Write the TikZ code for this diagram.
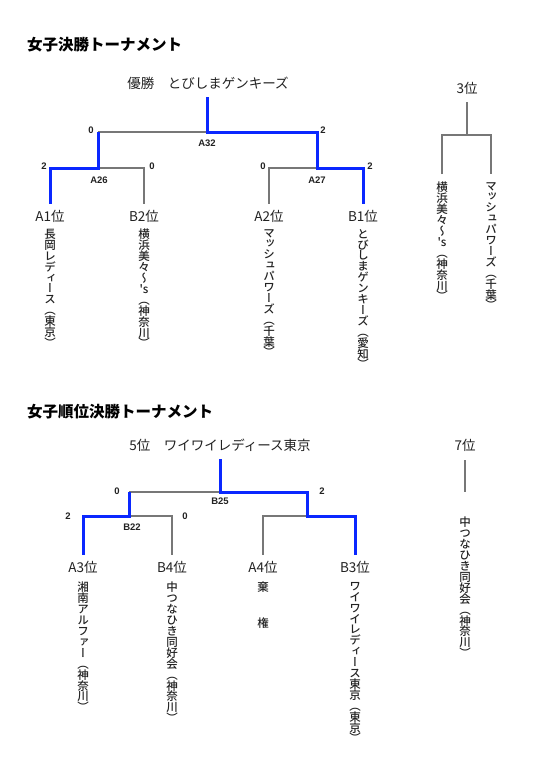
\documentclass[tikz,border=0pt]{standalone}
\usepackage{fontspec}
\setmainfont{Noto Sans CJK JP}
\newfontfamily\vjp[RawFeature=+vert]{Noto Sans CJK JP Medium}
\newfontfamily\jpm{Noto Sans CJK JP Medium}
\newfontfamily\numf{Liberation Sans}
\definecolor{wblue}{HTML}{0A28FF}
\definecolor{lgray}{HTML}{777777}
\definecolor{txt}{HTML}{222222}
\def\vstEnd{vstEnd-unique-marker}
\def\aps{'s}
\newcommand\vst[1]{\vbox{\baselineskip=10.9pt\lineskiplimit=-20pt\vjp\fontsize{11.5}{10.9}\selectfont\vstA#1\vstEnd}}
\def\vstA#1{\ifx\vstEnd#1\else\hbox to 12pt{\hss#1\hss}\expandafter\vstA\fi}
\tikzset{
  x=1pt,y=-1pt,
  win/.style={draw=wblue,line width=3pt},
  lose/.style={draw=lgray,line width=1.1pt},
  title/.style={anchor=west,inner sep=0,font=\bfseries\fontsize{15.5}{16}\selectfont,text=black},
  lbl/.style={inner sep=0,font=\fontsize{13.5}{13.5}\selectfont,text=txt},
  team/.style={lbl,outer ysep=6pt},
  sc/.style={inner sep=0,font=\numf\bfseries\fontsize{9.5}{9.5}\selectfont,text=txt},
  vt/.style={anchor=north,inner sep=0,text=txt},
}
\begin{document}
\begin{tikzpicture}
\useasboundingbox[fill=white] (0,0) rectangle (550,766);
% ===== Section 1 =====
\node[title] (t1) at (27,45) {女子決勝トーナメント};
\node[lbl] (champ) at (208,83) {優勝　とびしまゲンキーズ};
\coordinate (c1) at (207,97);
\coordinate (m32) at (207,132);
\coordinate (m26) at (98,132);
\coordinate (j26) at (98,168);
\coordinate (m27) at (317,132);
\coordinate (j27) at (317,168);
\node[team] (A1) at (50,216) {A1位};
\node[team] (B2) at (144,216) {B2位};
\node[team] (A2) at (269,216) {A2位};
\node[team] (B1) at (363,216) {B1位};
\draw[lose] (m26) -- (m32);
\draw[lose] (B2.north) |- (j26);
\draw[lose] (A2.north) |- (j27);
\draw[win] (A1.north) |- (j26) -- (m26);
\draw[win] (B1.north) |- (j27) -- (m27) -- (m32) -- (c1);
\node[sc] (s1) at (91,130) {0};
\node[sc] (s2) at (323,130) {2};
\node[sc] (s3) at (44,166) {2};
\node[sc] (s4) at (152,166) {0};
\node[sc] (s5) at (263,166) {0};
\node[sc] (s6) at (370,166) {2};
\node[sc] (g1) at (207,143) {A32};
\node[sc] (g2) at (99,180) {A26};
\node[sc] (g3) at (317,180) {A27};
\node[vt] (nA1) at (50,229) {\vst{長岡レディース（東京）}};
\node[vt] (nB2) at (144,229) {\vst{横浜美々〜\aps（神奈川）}};
\node[vt] (nA2) at (269,229) {\vst{マッシュパワーズ（千葉）}};
\node[vt] (nB1) at (363,229) {\vst{とびしまゲンキーズ（愛知）}};
% third place
\node[lbl] (third) at (467,88) {3位};
\coordinate (t3a) at (467,102);
\coordinate (t3m) at (467,135);
\coordinate (t3l) at (442,174);
\coordinate (t3r) at (491,174);
\draw[lose] (t3a) -- (t3m);
\draw[lose] (t3l) |- (t3m) -| (t3r);
\node[vt] (n3l) at (442,182) {\vst{横浜美々〜\aps（神奈川）}};
\node[vt] (n3r) at (491,182) {\vst{マッシュパワーズ（千葉）}};
% ===== Section 2 =====
\node[title] (t2) at (27,412) {女子順位決勝トーナメント};
\node[lbl] (fifth) at (220,445) {5位　ワイワイレディース東京};
\coordinate (c2) at (220,459);
\coordinate (m25) at (220,492);
\coordinate (m22) at (129,492);
\coordinate (j22) at (129,516);
\coordinate (mR) at (307,492);
\coordinate (jR) at (307,516);
\node[team] (A3) at (83,567) {A3位};
\node[team] (B4) at (172,567) {B4位};
\node[team] (A4) at (263,567) {A4位};
\node[team] (B3) at (355,567) {B3位};
\draw[lose] (m22) -- (m25);
\draw[lose] (B4.north) |- (j22);
\draw[lose] (A4.north) |- (jR);
\draw[win] (A3.north) |- (j22) -- (m22);
\draw[win] (B3.north) |- (jR) -- (mR) -- (m25) -- (c2);
\node[sc] (s7) at (117,491) {0};
\node[sc] (s8) at (322,491) {2};
\node[sc] (s9) at (68,516) {2};
\node[sc] (s10) at (185,516) {0};
\node[sc] (g4) at (220,501) {B25};
\node[sc] (g5) at (132,527) {B22};
\node[vt] (nA3) at (83,582) {\vst{湘南アルファー（神奈川）}};
\node[vt] (nB4) at (172,582) {\vst{中つなひき同好会（神奈川）}};
\node[lbl,font=\jpm\fontsize{11.5}{11}\selectfont] (k1) at (263,587) {棄};
\node[lbl,font=\jpm\fontsize{11.5}{11}\selectfont] (k2) at (263,623) {権};
\node[vt] (nB3) at (355,582) {\vst{ワイワイレディース東京（東京）}};
% seventh
\node[lbl] (seventh) at (465,445) {7位};
\coordinate (s7a) at (465,460);
\coordinate (s7b) at (465,492);
\draw[lose] (s7a) -- (s7b);
\node[vt] (n7) at (465,517) {\vst{中つなひき同好会（神奈川）}};
\end{tikzpicture}
\end{document}
